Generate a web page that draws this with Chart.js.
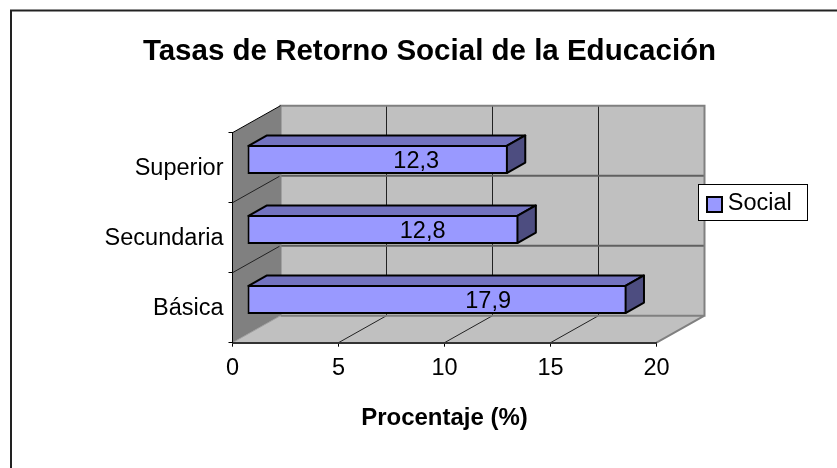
<!DOCTYPE html>
<html>
<head>
<meta charset="utf-8">
<title>Tasas de Retorno Social de la Educación</title>
<script src="https://cdn.jsdelivr.net/npm/chart.js@4"></script>
<style>
  html, body { margin: 0; padding: 0; background: #fff; }
  #chart-box { width: 837px; height: 468px; }
</style>
</head>
<body>
<div id="chart-box"><canvas id="js-bar-chart"></canvas></div>
<script>
// Chart data
const categories = ['Superior', 'Secundaria', 'Básica'];
const socialValues = [12.3, 12.8, 17.9];
const xTicks = [0, 5, 10, 15, 20];

const FONT = '"Liberation Sans", Arial, sans-serif';

// Depth of the fake 3D box (walls and bars)
const WALL_DX = 48;
const WALL_DY = 27;
const BAR_SHIFT_X = 14.5;
const BAR_SHIFT_Y = 8.2;
const BAR_DX = 18.5;
const BAR_DY = 10.5;

// Frame, walls and floor go behind everything else
const boxPlugin = {
  id: 'box3d',
  afterLayout(chart) {
    // Title is centred on the frame, not on the plot area
    const title = chart.titleBlock;
    title.left = 22;
    title.right = 837;
    title.width = 815;
    // Legend sits on its own at the right
    const legend = chart.legend;
    legend.left = 695;
    legend.top = 186;
    legend.right = 807;
    legend.bottom = 223;
    legend.width = 112;
    legend.height = 37;
  },
  beforeDraw(chart) {
    const { ctx, chartArea: a } = chart;
    const xs = chart.scales.x;
    const ys = chart.scales.y;
    const dataset = chart.data.datasets[0];

    ctx.save();
    ctx.fillStyle = '#fff';
    ctx.fillRect(0, 0, chart.width, chart.height);

    // back wall
    ctx.fillStyle = '#C0C0C0';
    ctx.fillRect(a.left + WALL_DX, a.top - WALL_DY, a.width, a.height);

    // floor
    ctx.beginPath();
    ctx.moveTo(a.left, a.bottom);
    ctx.lineTo(a.right, a.bottom);
    ctx.lineTo(a.right + WALL_DX, a.bottom - WALL_DY);
    ctx.lineTo(a.left + WALL_DX, a.bottom - WALL_DY);
    ctx.closePath();
    ctx.fill();

    // side wall
    ctx.fillStyle = '#808080';
    ctx.beginPath();
    ctx.moveTo(a.left, a.top);
    ctx.lineTo(a.left + WALL_DX, a.top - WALL_DY);
    ctx.lineTo(a.left + WALL_DX, a.bottom - WALL_DY);
    ctx.lineTo(a.left, a.bottom);
    ctx.closePath();
    ctx.fill();

    // grid on walls and floor
    ctx.strokeStyle = '#222';
    ctx.lineWidth = 1;
    ctx.beginPath();
    xs.ticks.forEach((t, i) => {
      if (i === 0 || i === xs.ticks.length - 1) return;
      const px = xs.getPixelForTick(i);
      ctx.moveTo(px, a.bottom);
      ctx.lineTo(px + WALL_DX, a.bottom - WALL_DY);
      ctx.lineTo(px + WALL_DX, a.top - WALL_DY);
    });
    const band = ys.getPixelForValue(1) - ys.getPixelForValue(0);
    categories.forEach((c, i) => {
      if (i === 0) return;
      const py = ys.getPixelForValue(i) - band / 2;
      ctx.moveTo(a.left, py);
      ctx.lineTo(a.left + WALL_DX, py - WALL_DY);
    });
    ctx.stroke();

    // horizontal lines on the back wall are heavier
    ctx.strokeStyle = '#606060';
    ctx.lineWidth = 2;
    ctx.beginPath();
    categories.forEach((c, i) => {
      if (i === 0) return;
      const py = ys.getPixelForValue(i) - band / 2;
      ctx.moveTo(a.left + WALL_DX, py - WALL_DY);
      ctx.lineTo(a.right + WALL_DX, py - WALL_DY);
    });
    ctx.stroke();

    // wall edges
    ctx.strokeStyle = '#808080';
    ctx.lineWidth = 2;
    ctx.beginPath();
    ctx.moveTo(a.left + WALL_DX, a.bottom - WALL_DY);
    ctx.lineTo(a.left + WALL_DX, a.top - WALL_DY);
    ctx.lineTo(a.right + WALL_DX, a.top - WALL_DY);
    ctx.lineTo(a.right + WALL_DX, a.bottom - WALL_DY);
    ctx.lineTo(a.left + WALL_DX, a.bottom - WALL_DY);
    ctx.moveTo(a.right, a.bottom);
    ctx.lineTo(a.right + WALL_DX, a.bottom - WALL_DY);
    ctx.stroke();

    // dark edges of the side wall
    ctx.strokeStyle = '#000';
    ctx.lineWidth = 1;
    ctx.beginPath();
    ctx.moveTo(a.left, a.top);
    ctx.lineTo(a.left + WALL_DX, a.top - WALL_DY);
    ctx.stroke();
    ctx.strokeStyle = '#A0A0A0';
    ctx.beginPath();
    ctx.moveTo(a.left, a.bottom);
    ctx.lineTo(a.left + WALL_DX, a.bottom - WALL_DY);
    ctx.stroke();

    // outer frame, only top and left show in the picture
    ctx.strokeStyle = '#222';
    ctx.lineWidth = 2;
    ctx.beginPath();
    ctx.moveTo(11, 468);
    ctx.lineTo(11, 10.5);
    ctx.lineTo(837, 10.5);
    ctx.stroke();

    // legend box and swatch
    ctx.fillStyle = '#fff';
    ctx.strokeStyle = '#000';
    ctx.lineWidth = 1;
    ctx.fillRect(698, 184, 110, 37);
    ctx.strokeRect(698.5, 184.5, 109, 36);
    ctx.fillStyle = dataset.backgroundColor;
    ctx.lineWidth = dataset.borderWidth;
    ctx.strokeStyle = dataset.borderColor;
    ctx.fillRect(707, 197, 15, 15);
    ctx.strokeRect(707, 197, 15, 15);
    ctx.restore();
  },
  beforeDatasetDraw(chart, args) {
    const { ctx } = chart;
    ctx.save();
    ctx.translate(BAR_SHIFT_X, -BAR_SHIFT_Y);

    // top and end faces of each bar
    args.meta.data.forEach((bar) => {
      const { x, y, base, height } = bar.getProps(['x', 'y', 'base', 'height'], true);
      const top = y - height / 2;
      const bottom = y + height / 2;
      ctx.lineWidth = 2;
      ctx.strokeStyle = '#000';
      ctx.lineJoin = 'round';

      ctx.fillStyle = '#7373BF';
      ctx.beginPath();
      ctx.moveTo(base + 1, top + 1);
      ctx.lineTo(base + 1 + BAR_DX, top + 1 - BAR_DY);
      ctx.lineTo(x - 1 + BAR_DX, top + 1 - BAR_DY);
      ctx.lineTo(x - 1, top + 1);
      ctx.closePath();
      ctx.fill();
      ctx.stroke();

      ctx.fillStyle = '#4D4D80';
      ctx.beginPath();
      ctx.moveTo(x - 1, top + 1);
      ctx.lineTo(x - 1 + BAR_DX, top + 1 - BAR_DY);
      ctx.lineTo(x - 1 + BAR_DX, bottom - 1 - BAR_DY);
      ctx.lineTo(x - 1, bottom - 1);
      ctx.closePath();
      ctx.fill();
      ctx.stroke();
    });
  },
  afterDatasetDraw(chart, args) {
    const { ctx } = chart;
    ctx.restore();

    // value labels, decimal comma, sitting right of the middle of the bar
    ctx.save();
    ctx.font = '23.5px ' + FONT;
    ctx.fillStyle = '#000';
    ctx.textAlign = 'center';
    ctx.textBaseline = 'middle';
    args.meta.data.forEach((bar, i) => {
      const { x, y, base } = bar.getProps(['x', 'y', 'base'], true);
      const label = socialValues[i].toFixed(1).replace('.', ',');
      ctx.fillText(label, base + 25.5 + (x - base) * 0.606, y - BAR_SHIFT_Y + 2);
    });
    ctx.restore();
  },
};

const barChart = new Chart(document.getElementById('js-bar-chart').getContext('2d'), {
  type: 'bar',
  data: {
    labels: categories,
    datasets: [
      {
        label: 'Social',
        data: socialValues,
        backgroundColor: '#9999FF',
        borderColor: '#000',
        borderWidth: 2,
        borderSkipped: false,
        barPercentage: 0.415,
        categoryPercentage: 1,
        clip: false,
      },
    ],
  },
  options: {
    indexAxis: 'y',
    responsive: true,
    maintainAspectRatio: false,
    animation: false,
    events: [],
    layout: {
      padding: { left: 0, right: 180.5, top: 0, bottom: 0 },
    },
    scales: {
      x: {
        min: xTicks[0],
        max: xTicks[xTicks.length - 1],
        afterFit: (scale) => { scale.height = 125.3; },
        afterBuildTicks: (scale) => { scale.ticks = xTicks.map((value) => ({ value })); },
        grid: { drawOnChartArea: false, color: '#000', tickLength: 4 },
        border: { color: '#333', width: 2 },
        ticks: {
          color: '#000',
          font: { family: FONT, size: 23.5 },
          padding: 8,
          maxRotation: 0,
          autoSkip: false,
        },
        title: {
          display: true,
          text: 'Procentaje (%)',
          color: '#000',
          font: { family: FONT, size: 24, weight: 'bold' },
          padding: { top: 0, bottom: 35 },
        },
      },
      y: {
        afterFit: (scale) => { scale.width = 232.5; },
        grid: { drawOnChartArea: false, color: '#000', tickLength: 4 },
        border: { color: '#000' },
        ticks: {
          color: '#000',
          font: { family: FONT, size: 23.5 },
          padding: 5,
          labelOffset: 1,
          autoSkip: false,
        },
      },
    },
    plugins: {
      title: {
        display: true,
        text: 'Tasas de Retorno Social de la Educación',
        color: '#000',
        font: { family: FONT, size: 29.5, weight: 'bold' },
        padding: { top: 34, bottom: 63.3 },
      },
      legend: {
        position: 'chartArea',
        align: 'start',
        labels: {
          color: '#000',
          font: { family: FONT, size: 23.5 },
          boxWidth: 15,
          boxHeight: 15,
          padding: 6,
          // the swatch is drawn with the legend box, closer to the text
          generateLabels: (chart) => chart.data.datasets.map((d, i) => ({
            text: d.label,
            fillStyle: 'transparent',
            strokeStyle: 'transparent',
            lineWidth: 0,
            datasetIndex: i,
          })),
        },
      },
      tooltip: { enabled: false },
    },
  },
  plugins: [boxPlugin],
});
</script>
</body>
</html>
